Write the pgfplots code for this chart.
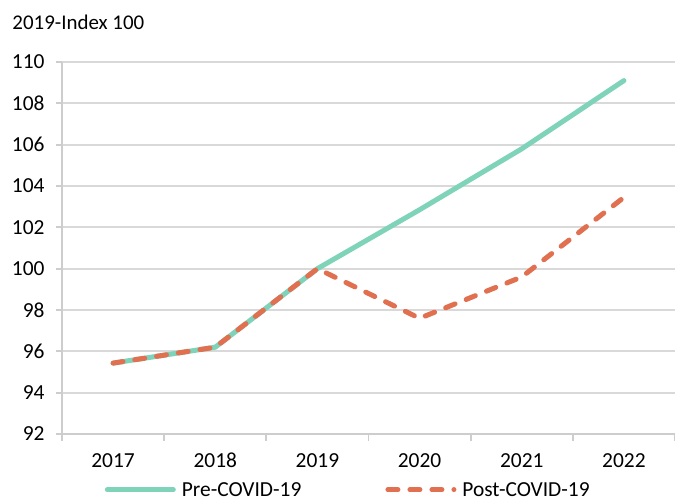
\documentclass[border=0pt]{standalone}
\usepackage{pgfplots}
\pgfplotsset{compat=1.18}
\usepackage{fontspec}
\setmainfont{Carlito}
\definecolor{pre}{RGB}{127,211,185}
\definecolor{post}{RGB}{224,112,80}
\definecolor{gridc}{RGB}{217,217,217}
\definecolor{axc}{RGB}{205,205,205}
\begin{document}
\begin{tikzpicture}
\useasboundingbox (-62bp,-70bp) rectangle (613bp,434bp);
\begin{axis}[
  at={(0,0)}, anchor=south west,
  scale only axis, width=613bp, height=372bp,
  xmin=-0.5, xmax=5.5, ymin=92, ymax=110,
  ytick={92,94,...,110},
  xtick={0,1,2,3,4,5},
  xticklabels={2017,2018,2019,2020,2021,2022},
  minor xtick={-0.5,0.5,...,5.5},
  axis x line*=bottom, axis y line*=left,
  axis line style={draw=axc, line width=1.8bp, -},
  ymajorgrids, grid style={draw=gridc, line width=1.8bp},
  major x tick style={draw=none},
  minor x tick style={draw=axc, line width=1.8bp},
  major y tick style={draw=axc, line width=1.8bp},
  tick align=outside, major tick length=6bp, minor tick length=7bp,
  /pgf/number format/assume math mode=true,
  ticklabel style={font=\fontsize{21.5}{25}\selectfont, text=black},
  yticklabel style={xshift=-8bp},
  xticklabel style={anchor=north, text height=15bp, text depth=0pt, yshift=-9bp},
  title={2019-Index 100},
  title style={at={(rel axis cs:-0.0865,1)}, anchor=west, yshift=34bp, font=\fontsize{21}{25}\selectfont},
  legend columns=2,
  legend style={at={(rel axis cs:0.467,-0.150)}, anchor=center, draw=none, fill=none,
    font=\fontsize{21.5}{25}\selectfont, inner sep=0pt,
    /tikz/every odd column/.append style={column sep=4bp},
    /tikz/every even column/.append style={column sep=82bp}},
  legend image code/.code={\draw[#1] (0bp,0bp) -- (66bp,0bp);},
  clip=false,
]
\addplot[pre, line width=5bp, line cap=round, line join=round] coordinates {
  (0,95.43) (1,96.2) (2,100.0) (3,102.85) (4,105.8) (5,109.1)
};
\addlegendentry{Pre-COVID-19}
\addplot[post, line width=5bp, line cap=round, line join=round, dash pattern=on 10bp off 12bp] coordinates {
  (0,95.43) (1,96.2) (2,100.0) (3,97.6) (4,99.6) (5,103.45)
};
\addlegendentry{Post-COVID-19}
\end{axis}
\end{tikzpicture}
\end{document}
